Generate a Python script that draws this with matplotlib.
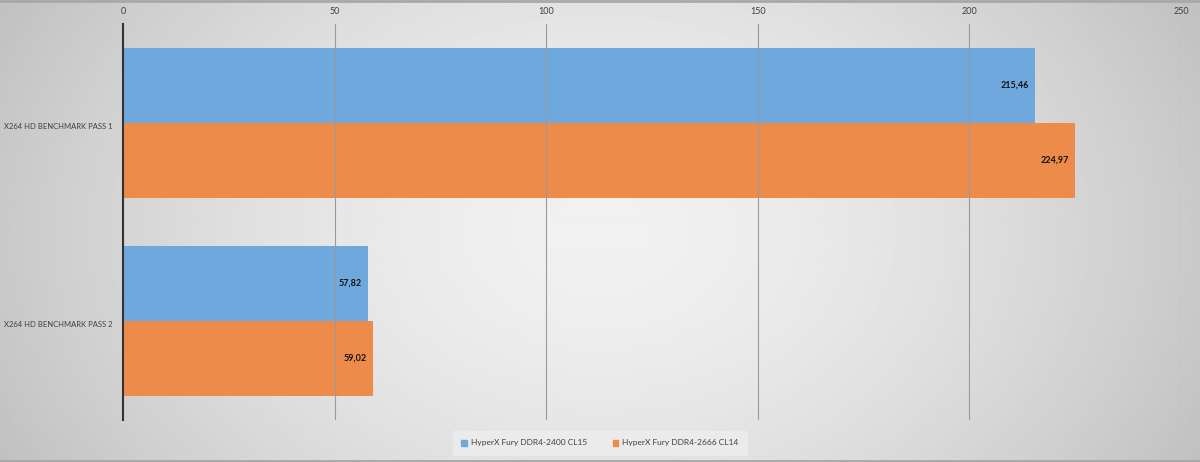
import numpy as np
import matplotlib.pyplot as plt
from matplotlib.patches import Patch

# data
categories = ['X264 HD BENCHMARK PASS 1', 'X264 HD BENCHMARK PASS 2']
series_names = ['HyperX Fury DDR4-2400 CL15', 'HyperX Fury DDR4-2666 CL14']
ddr2400 = [215.46, 57.82]
ddr2666 = [224.97, 59.02]
labels_2400 = ['215,46', '57,82']
labels_2666 = ['224,97', '59,02']
ticks = [0, 50, 100, 150, 200, 250]

blue = '#6fa8dc'
orange = '#ed8c4a'
plt.rcParams['font.family'] = ['Lato', 'DejaVu Sans']
fs = 6.0

fig = plt.figure(figsize=(12, 4.62), dpi=100)

# background gradient (light in middle, darker towards the edges)
bg = fig.add_axes([0, 0, 1, 1], zorder=-10)
xx, yy = np.meshgrid(np.linspace(-1, 1, 600), np.linspace(-1, 1, 240))
r = np.sqrt((xx * 0.95) ** 2 + (yy * 0.5) ** 2)
shade = 0.945 - 0.17 * np.clip(r, 0, 1.2) ** 1.6
bg.imshow(shade, cmap='gray', vmin=0, vmax=1, aspect='auto', extent=[0, 1, 0, 1])
bg.axhline(0.998, color='#a8a8a8', lw=2)
bg.axhline(0.002, color='#a8a8a8', lw=2)
bg.set_axis_off()

ax = fig.add_axes([123 / 1200, 42 / 462, 1058 / 1200, 396 / 462])
ax.patch.set_alpha(0)

h = 0.378
y = np.arange(len(categories))
b1 = ax.barh(y - h / 2, ddr2400, height=h, color=blue, zorder=2)
b2 = ax.barh(y + h / 2, ddr2666, height=h, color=orange, zorder=2)

for bars, labs in ((b1, labels_2400), (b2, labels_2666)):
    for bar, lab in zip(bars, labs):
        ax.annotate(lab, (bar.get_width(), bar.get_y() + bar.get_height() / 2),
                    xytext=(-4.5, 0), textcoords='offset points', ha='right', va='center',
                    fontsize=6.5, fontweight='bold', color='#111111', zorder=4)

ax.set_xlim(0, 250)
ax.set_ylim(1.5, -0.5)
ax.set_xticks(ticks)
ax.xaxis.tick_top()
ax.tick_params(axis='x', length=0, labelsize=fs + 0.5, labelcolor='#404040', pad=6)
ax.set_yticks(y)
ax.set_yticklabels([])
ax.tick_params(axis='y', length=0)
for yi, cat in zip(y, categories):
    ax.text(-119 / 1058, yi + 0.02, cat, transform=ax.get_yaxis_transform(),
            ha='left', va='center', fontsize=5.5, color='#404040')
ax.grid(axis='x', color='#9a9a9a', lw=0.8, zorder=3)
ax.set_axisbelow(False)
for s in ('top', 'right', 'bottom'):
    ax.spines[s].set_visible(False)
ax.spines['left'].set_color('#333333')
ax.spines['left'].set_linewidth(1.5)
ax.spines['left'].set_zorder(5)

handles = [Patch(color=blue), Patch(color=orange)]
fig.legend(handles, series_names, loc='center', bbox_to_anchor=(0.5, 19 / 462),
           ncol=2, frameon=True, fontsize=fs, handlelength=0.7, handleheight=0.7,
           handletextpad=0.5, columnspacing=3.0, facecolor='#ebebeb',
           edgecolor='#ebebeb', framealpha=1, fancybox=False, labelcolor='#404040',
           borderpad=1.0, borderaxespad=0)

fig.savefig('out.png', dpi=100)
